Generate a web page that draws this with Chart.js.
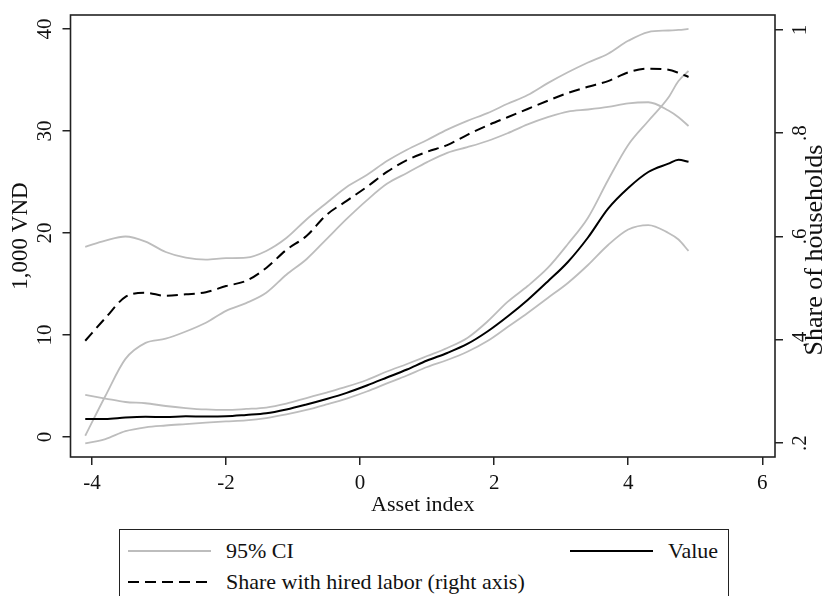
<!DOCTYPE html>
<html>
<head>
<meta charset="utf-8">
<script src="https://cdn.jsdelivr.net/npm/chart.js@4.4.1/dist/chart.umd.min.js"></script>
<style>
  html, body { margin: 0; padding: 0; background: #fff; overflow: hidden; }
  #wrap { position: relative; width: 831px; height: 596px; }
  #chart { position: absolute; left: 0; top: 0; }
  #legend {
    position: absolute; left: 119px; top: 529px; width: 610px; height: 90px;
    box-sizing: border-box; border: 1.5px solid #222; background: #fff;
    font: 22px 'Liberation Serif', 'Times New Roman', serif; color: #111;
  }
  #legend .item { position: absolute; height: 30px; display: flex; align-items: center; white-space: nowrap; }
  #legend svg { margin-right: 15px; }
</style>
</head>
<body>
<div id="wrap">
  <canvas id="chart" width="831" height="596"></canvas>
  <div id="legend"></div>
</div>
<script>
// asset index grid (x) and the smoothed curves
const assetIndex = [-4.1, -3.8, -3.5, -3.2, -2.9, -2.6, -2.3, -2.0, -1.7, -1.4, -1.1, -0.8, -0.5, -0.2, 0.1, 0.4,
                    0.7, 1.0, 1.3, 1.6, 1.9, 2.2, 2.5, 2.8, 3.1, 3.4, 3.7, 4.0, 4.3, 4.6, 4.75, 4.9];

// value, 1,000 VND (left axis)
const value   = [1.76, 1.76, 1.91, 1.98, 1.96, 2.03, 2.01, 2.03, 2.16, 2.32, 2.70, 3.19, 3.73, 4.33, 5.05, 5.83,
                 6.62, 7.50, 8.24, 9.12, 10.34, 11.81, 13.43, 15.25, 17.16, 19.56, 22.39, 24.41, 25.98, 26.80, 27.19, 26.98];
const valueHi = [4.12, 3.77, 3.43, 3.31, 3.04, 2.84, 2.70, 2.65, 2.75, 2.89, 3.28, 3.82, 4.36, 4.93, 5.59, 6.42,
                 7.16, 7.94, 8.73, 9.71, 11.32, 13.24, 14.80, 16.57, 18.92, 21.50, 25.20, 28.63, 30.98, 33.28, 34.90, 35.88];
const valueLo = [-0.62, -0.20, 0.57, 0.95, 1.13, 1.27, 1.41, 1.53, 1.64, 1.86, 2.21, 2.65, 3.19, 3.77, 4.46, 5.25,
                 6.03, 6.86, 7.55, 8.36, 9.41, 10.78, 12.16, 13.63, 15.10, 16.86, 18.82, 20.34, 20.78, 20.00, 19.36, 18.24];

// share of households with hired labor (right axis)
const share   = [0.398, 0.442, 0.483, 0.491, 0.485, 0.488, 0.492, 0.504, 0.514, 0.539, 0.574, 0.601, 0.642, 0.669, 0.696, 0.725,
                 0.748, 0.764, 0.777, 0.797, 0.815, 0.831, 0.847, 0.863, 0.878, 0.890, 0.901, 0.918, 0.925, 0.923, 0.917, 0.909];
const shareHi = [0.580, 0.592, 0.600, 0.590, 0.570, 0.559, 0.555, 0.558, 0.559, 0.572, 0.597, 0.633, 0.665, 0.696, 0.719, 0.746,
                 0.768, 0.787, 0.807, 0.824, 0.839, 0.857, 0.874, 0.897, 0.918, 0.937, 0.954, 0.979, 0.996, 0.999, 1.000, 1.002];
const shareLo = [0.214, 0.291, 0.363, 0.394, 0.402, 0.416, 0.433, 0.456, 0.471, 0.491, 0.526, 0.556, 0.595, 0.634, 0.670, 0.702,
                 0.723, 0.744, 0.762, 0.773, 0.785, 0.800, 0.817, 0.831, 0.842, 0.846, 0.851, 0.858, 0.860, 0.844, 0.831, 0.814];

const xTicks = [-4, -2, 0, 2, 4, 6];
const leftTicks = [0, 10, 20, 30, 40];
const rightTicks = [0.2, 0.4, 0.6, 0.8, 1];
const rightTickLabels = ['.2', '.4', '.6', '.8', '1'];

const SERIF = "'Liberation Serif', 'Times New Roman', serif";
const INK = '#111';
const GRAY = '#bdbdbd';

const pts = ys => assetIndex.map((x, i) => ({ x, y: ys[i] }));
const setTicks = list => s => { s.ticks = list.map(v => ({ value: v })); };

// Stata-style box round the plot region
const frame = {
  id: 'frame',
  afterDatasetsDraw(chart) {
    const { ctx, chartArea: a } = chart;
    ctx.save();
    ctx.strokeStyle = '#222';
    ctx.lineWidth = 1.6;
    ctx.strokeRect(a.left, a.top, a.right - a.left, a.bottom - a.top);
    ctx.restore();
  }
};

// right axis title reads bottom-to-top, which the built-in title can't do
const rightTitle = {
  id: 'rightTitle',
  afterDraw(chart) {
    const t = chart.scales.y1.options.title;
    const ctx = chart.ctx;
    ctx.save();
    ctx.font = '26px ' + SERIF;
    ctx.fillStyle = INK;
    ctx.textAlign = 'center';
    ctx.textBaseline = 'alphabetic';
    ctx.translate(822, 250);
    ctx.rotate(-Math.PI / 2);
    ctx.fillText(t.text, 0, 0);
    ctx.restore();
  }
};

// two-column legend in a box under the plot
const htmlLegend = {
  id: 'htmlLegend',
  afterUpdate(chart) {
    const box = document.getElementById('legend');
    box.innerHTML = '';
    const seen = new Set();
    const items = chart.data.datasets.filter(ds => !seen.has(ds.label) && seen.add(ds.label));
    const cols = [8, 450], rows = [6, 37];
    items.forEach((ds, i) => {
      const el = document.createElement('div');
      el.className = 'item';
      el.style.left = cols[i % 2] + 'px';
      el.style.top = rows[Math.floor(i / 2)] + 'px';
      const svg = document.createElementNS('http://www.w3.org/2000/svg', 'svg');
      svg.setAttribute('width', 83);
      svg.setAttribute('height', 6);
      const ln = document.createElementNS('http://www.w3.org/2000/svg', 'line');
      ln.setAttribute('x1', 0); ln.setAttribute('x2', 83);
      ln.setAttribute('y1', 3); ln.setAttribute('y2', 3);
      ln.setAttribute('stroke', ds.borderColor);
      ln.setAttribute('stroke-width', ds.borderWidth);
      if (ds.borderDash) ln.setAttribute('stroke-dasharray', ds.borderDash.join(' '));
      svg.appendChild(ln);
      const txt = document.createElement('span');
      txt.textContent = ds.label;
      el.appendChild(svg);
      el.appendChild(txt);
      box.appendChild(el);
    });
  }
};

const tickGrid = { drawOnChartArea: false, drawTicks: true, tickLength: 8, color: '#222', lineWidth: 1.5 };

new Chart(document.getElementById('chart'), {
  type: 'line',
  data: {
    datasets: [
      { label: '95% CI', data: pts(shareHi), yAxisID: 'y1', borderColor: GRAY, borderWidth: 1.8, order: 1 },
      { label: '95% CI', data: pts(shareLo), yAxisID: 'y1', borderColor: GRAY, borderWidth: 1.8, order: 1 },
      { label: '95% CI', data: pts(valueHi), yAxisID: 'y', borderColor: GRAY, borderWidth: 1.8, order: 1 },
      { label: '95% CI', data: pts(valueLo), yAxisID: 'y', borderColor: GRAY, borderWidth: 1.8, order: 1 },
      { label: 'Value', data: pts(value), yAxisID: 'y', borderColor: '#000', borderWidth: 2, order: 0 },
      { label: 'Share with hired labor (right axis)', data: pts(share), yAxisID: 'y1',
        borderColor: '#000', borderWidth: 2, borderDash: [11, 6], order: 0 },
    ],
  },
  options: {
    responsive: false,
    devicePixelRatio: 1,
    animation: false,
    events: [],
    elements: { point: { radius: 0 }, line: { cubicInterpolationMode: 'monotone', fill: false } },
    layout: { padding: { top: 15, bottom: 78, left: 0, right: 0 } },
    plugins: { legend: { display: false }, tooltip: { enabled: false } },
    scales: {
      x: {
        type: 'linear', min: -4.32, max: 6.19,
        afterBuildTicks: setTicks(xTicks),
        afterFit: s => { s.height = 61; s.paddingLeft = 0; s.paddingRight = 0; },
        border: { display: false },
        grid: tickGrid,
        ticks: { autoSkip: false, maxRotation: 0, padding: 6, color: INK,
                 font: { family: SERIF, size: 21 }, callback: v => String(v) },
        title: { display: true, text: 'Asset index', color: INK,
                 font: { family: SERIF, size: 22 }, padding: { top: 0, bottom: 0 } },
      },
      y: {
        position: 'left', min: -1.96, max: 41.37,
        afterBuildTicks: setTicks(leftTicks),
        afterFit: s => { s.width = 70.5; s.paddingTop = 0; s.paddingBottom = 0; },
        border: { display: false },
        grid: tickGrid,
        ticks: { autoSkip: false, minRotation: 90, maxRotation: 90, crossAlign: 'center', padding: 7,
                 color: INK, font: { family: SERIF, size: 21 }, callback: v => String(v) },
        title: { display: true, text: '1,000 VND', color: INK,
                 font: { family: SERIF, size: 23 }, padding: { top: 7, bottom: 0 } },
      },
      y1: {
        position: 'right', min: 0.1729, max: 1.029,
        afterBuildTicks: setTicks(rightTicks),
        afterFit: s => { s.width = 56; s.paddingTop = 0; s.paddingBottom = 0; },
        border: { display: false },
        grid: tickGrid,
        ticks: { autoSkip: false, minRotation: 90, maxRotation: 90, crossAlign: 'center', padding: 10,
                 color: INK, font: { family: SERIF, size: 21 }, callback: (v, i) => rightTickLabels[i] },
        title: { display: false, text: 'Share of households' },
      },
    },
  },
  plugins: [frame, rightTitle, htmlLegend],
});
</script>
</body>
</html>
